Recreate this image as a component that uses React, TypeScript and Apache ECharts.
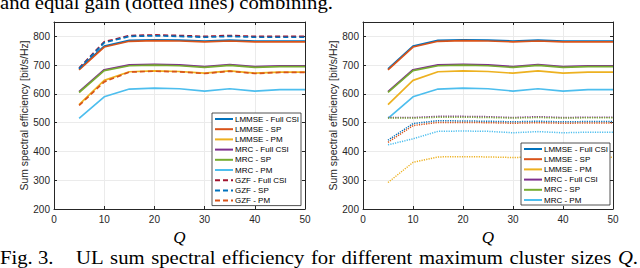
import React, { useEffect, useRef } from "react";
import * as echarts from "echarts";

// ---------- data ----------
const Q = [5, 10, 15, 20, 25, 30, 35, 40, 45, 50];
const xTicks = [0, 10, 20, 30, 40, 50];
const yTicks = [200, 300, 400, 500, 600, 700, 800];

// optimal combining (solid lines), both panels
const lmmseFull = [687, 766, 786, 788, 787, 784, 787, 784, 784, 784];
const lmmseSp = [684, 763, 783, 785, 784, 781, 784, 781, 781, 781];
const lmmsePm = [563, 647, 677, 680, 678, 672, 680, 672, 676, 676];
const mrcFull = [608, 684, 701, 703, 701, 695, 702, 695, 698, 698];
const mrcSp = [605, 681, 698, 700, 698, 692, 699, 692, 695, 695];
const mrcPm = [515, 590, 617, 620, 618, 610, 618, 610, 615, 615];

// left panel: GZF (dashed lines)
const gzfFull = [690, 781, 803, 805, 803, 800, 803, 800, 800, 800];
const gzfSp = [688, 778, 800, 802, 800, 797, 800, 797, 797, 797];
const gzfPm = [560, 642, 676, 679, 677, 671, 679, 671, 675, 675];

// right panel: equal gain combining (dotted lines)
const egcLmmseFull = [439, 497, 507, 506, 505, 503, 505, 503, 504, 504];
const egcLmmseSp = [432, 490, 501, 501, 500, 498, 500, 498, 499, 499];
const egcLmmsePm = [292, 362, 381, 382, 381, 379, 381, 379, 380, 380];
const egcMrcFull = [518, 518, 522, 522, 521, 518, 521, 518, 519, 519];
const egcMrcSp = [516, 516, 519, 519, 518, 516, 518, 516, 517, 517];
const egcMrcPm = [423, 444, 470, 471, 470, 465, 469, 465, 467, 467];

const namesOpt = ["LMMSE - Full CSI", "LMMSE - SP", "LMMSE - PM", "MRC - Full CSI", "MRC - SP", "MRC - PM"];
const namesGzf = ["GZF - Full CSI", "GZF - SP", "GZF - PM"];
const namesEgc = ["LMMSE - Full CSI (EGC)", "LMMSE - SP (EGC)", "LMMSE - PM (EGC)", "MRC - Full CSI (EGC)", "MRC - SP (EGC)", "MRC - PM (EGC)"];

const topCaption = ["and", "equal", "gain", "(dotted", "lines)", "combining."];
const bottomCaption = ["UL", "sum", "spectral", "efficiency", "for", "different", "maximum", "cluster", "sizes", "Q."];

// ---------- styles ----------
const C = {
  blue: "#0072BD",
  orange: "#D95319",
  yellow: "#EDB120",
  purple: "#7E2F8E",
  green: "#77AC30",
  cyan: "#4DBEEE",
  red: "#A2142F",
};
const optColors = [C.blue, C.orange, C.yellow, C.purple, C.green, C.cyan];
const gzfColors = [C.red, C.blue, C.orange];
const sans = "'Liberation Sans', Arial, sans-serif";
const serif = "'Liberation Serif', 'Times New Roman', serif";
const axisCol = "#262626";

export default function App() {
  const ref = useRef<HTMLDivElement>(null);
  useEffect(() => {
    const chart = echarts.init(ref.current!, null, { renderer: "svg" });

    const canvas = document.createElement("canvas");
    const ctx = canvas.getContext("2d")!;
    const capSize = 18;
    const capScale = 1.15;
    const capFont = `${capSize}px ${serif}`;
    const capItal = `italic ${capSize}px ${serif}`;
    const measure = (t: string, f: string) => {
      ctx.font = f;
      return ctx.measureText(t).width * capScale;
    };
    const justify = (words: string[], x0: number, x1: number) => {
      const widths = words.map((w) =>
        w === "Q." ? measure("Q", capItal) + measure(".", capFont) : measure(w, capFont)
      );
      const total = widths.reduce((a, b) => a + b, 0);
      const gap = (x1 - x0 - total) / (words.length - 1);
      let x = x0;
      return words.map((w, i) => {
        const r = { w, x };
        x += widths[i] + gap;
        return r;
      });
    };

    const capText = (text: string, x: number, y: number, italic = false) => ({
      type: "text",
      x,
      y,
      scaleX: capScale,
      silent: true,
      style: {
        text,
        fontFamily: serif,
        fontSize: capSize,
        fontStyle: italic ? "italic" : "normal",
        fill: "#000",
        verticalAlign: "middle",
        align: "left",
      },
    });

    const topY = 3;
    const botY = 258;
    const graphics: any[] = [];
    justify(topCaption, 0, 333).forEach((o) => graphics.push(capText(o.w, o.x, topY)));
    graphics.push(capText("Fig. 3.", 0, botY));
    justify(bottomCaption, 76, 638).forEach((o) => {
      if (o.w === "Q.") {
        graphics.push(capText("Q", o.x, botY, true));
        graphics.push(capText(".", o.x + measure("Q", capItal), botY));
      } else graphics.push(capText(o.w, o.x, botY));
    });

    const grids = [
      { left: 54, top: 22, width: 251, height: 187 },
      { left: 363, top: 22, width: 250, height: 187 },
    ];

    const xAxes: any[] = [];
    const yAxes: any[] = [];
    grids.forEach((_, gi) => {
      xAxes.push({
        type: "value",
        gridIndex: gi,
        min: xTicks[0],
        max: xTicks[xTicks.length - 1],
        interval: 10,
        name: "Q",
        nameLocation: "middle",
        nameGap: 14.5,
        nameTextStyle: { fontFamily: serif, fontStyle: "italic", fontSize: 17, color: "#000" },
        axisLine: { show: true, onZero: false, lineStyle: { color: axisCol, width: 1 } },
        axisTick: { show: true, inside: true, length: 3, lineStyle: { color: axisCol } },
        axisLabel: { color: axisCol, fontFamily: sans, fontSize: 10, margin: 5 },
        splitLine: { show: true, lineStyle: { color: "#ebebeb", width: 1 } },
      });
      xAxes.push({
        type: "value",
        gridIndex: gi,
        position: "top",
        min: xTicks[0],
        max: xTicks[xTicks.length - 1],
        interval: 10,
        axisLine: { show: true, onZero: false, lineStyle: { color: axisCol, width: 1 } },
        axisTick: { show: true, inside: true, length: 3, lineStyle: { color: axisCol } },
        axisLabel: { show: false },
        splitLine: { show: false },
      });
      yAxes.push({
        type: "value",
        gridIndex: gi,
        min: 200,
        max: 850,
        interval: 100,
        name: "Sum spectral efficiency [bit/s/Hz]",
        nameLocation: "middle",
        nameGap: 25,
        nameTextStyle: { fontFamily: sans, fontSize: 10.4, color: axisCol },
        axisLine: { show: true, onZero: false, lineStyle: { color: axisCol, width: 1 } },
        axisTick: { show: true, inside: true, length: 3, lineStyle: { color: axisCol } },
        axisLabel: {
          color: axisCol,
          fontFamily: sans,
          fontSize: 10,
          margin: 4,
          formatter: (v: number) => (yTicks.includes(v) ? String(v) : ""),
        },
        splitLine: { show: true, lineStyle: { color: "#ebebeb", width: 1 } },
      });
      yAxes.push({
        type: "value",
        gridIndex: gi,
        position: "right",
        min: 200,
        max: 850,
        interval: 100,
        axisLine: { show: true, onZero: false, lineStyle: { color: axisCol, width: 1 } },
        axisTick: { show: true, inside: true, length: 3, lineStyle: { color: axisCol } },
        axisLabel: { show: false },
        splitLine: { show: false },
      });
    });

    const mk = (name: string, vals: number[], color: string, panel: number, type: any, width = 1.7) => ({
      type: "line",
      name,
      xAxisIndex: panel * 2,
      yAxisIndex: panel * 2,
      data: Q.map((q, i) => [q, vals[i]]),
      symbol: "none",
      silent: true,
      color,
      lineStyle: { color, width, type },
    });

    const optData = [lmmseFull, lmmseSp, lmmsePm, mrcFull, mrcSp, mrcPm];
    const gzfData = [gzfFull, gzfSp, gzfPm];
    const egcData = [egcLmmseFull, egcLmmseSp, egcLmmsePm, egcMrcFull, egcMrcSp, egcMrcPm];

    const series: any[] = [];
    optData.forEach((d, i) => series.push(mk(namesOpt[i], d, optColors[i], 0, "solid")));
    gzfData.forEach((d, i) => series.push(mk(namesGzf[i], d, gzfColors[i], 0, [5, 3])));
    optData.forEach((d, i) => series.push(mk(namesOpt[i], d, optColors[i], 1, "solid")));
    egcData.forEach((d, i) => series.push(mk(namesEgc[i], d, optColors[i], 1, [1.2, 1.2], 1.5)));

    const legendBase = {
      orient: "vertical",
      itemWidth: 18,
      itemHeight: 9,
      itemGap: 1.2,
      padding: [1.5, 2, 0.5, 2],
      borderColor: axisCol,
      borderWidth: 0.8,
      backgroundColor: "#fff",
      selectedMode: false,
      itemStyle: { opacity: 0 },
      textStyle: {
        fontFamily: sans,
        fontSize: 8,
        lineHeight: 9,
        height: 9,
        color: "#000",
        padding: [0, 0, 0, -3],
      },
    };

    chart.setOption({
      animation: false,
      backgroundColor: "#fff",
      grid: grids.map((g) => ({ ...g, show: false })),
      xAxis: xAxes,
      yAxis: yAxes,
      legend: [
        { ...legendBase, left: 212, top: 113, data: [...namesOpt, ...namesGzf] },
        { ...legendBase, left: 521, top: 143, data: namesOpt },
      ],
      series,
      graphic: graphics,
    });

    return () => chart.dispose();
  }, []);
  return (
    <div
      ref={ref}
      style={{ position: "fixed", left: 0, top: 0, width: 640, height: 268, background: "#fff" }}
    />
  );
}
